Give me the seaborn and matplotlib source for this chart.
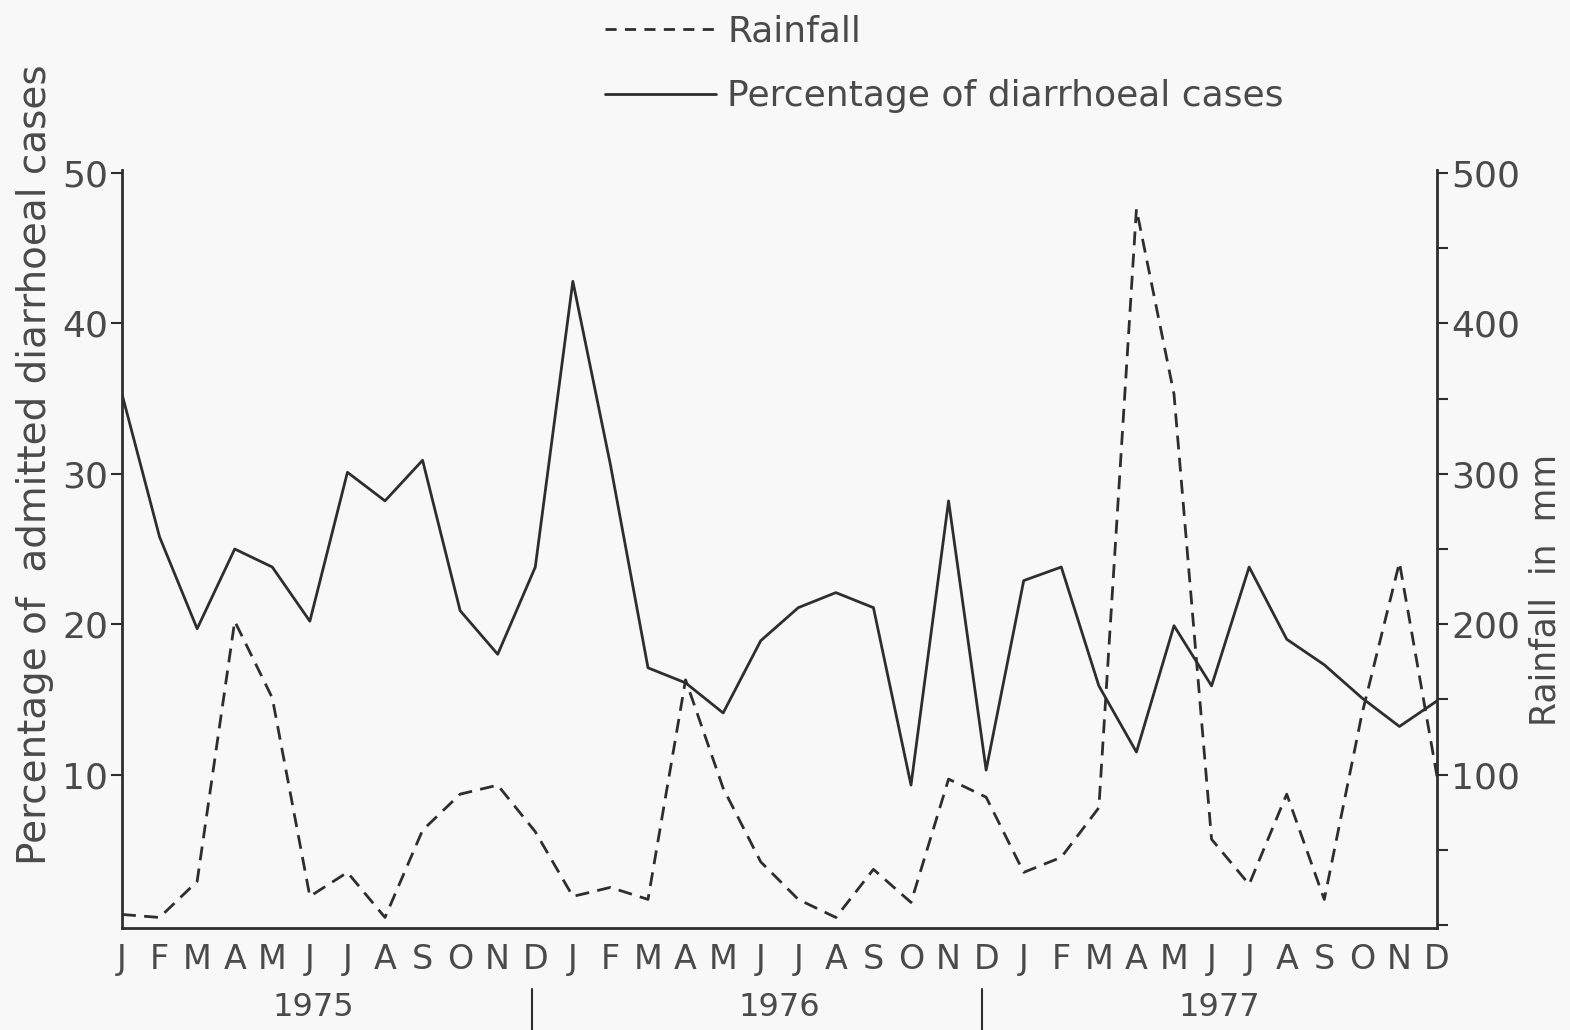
import numpy as np
import pandas as pd
import seaborn as sns
import matplotlib.pyplot as plt
from matplotlib.lines import Line2D
from matplotlib.ticker import MultipleLocator

# datos (ene 1975 - dic 1977)
months = list("JFMAMJJASOND") * 3
years = ["1975", "1976", "1977"]
pct_cases = [35.3, 25.8, 19.7, 25.0, 23.8, 20.2, 30.1, 28.2, 30.9, 20.9, 18.0, 23.8,
             42.8, 30.6, 17.1, 16.1, 14.1, 18.9, 21.1, 22.1, 21.1, 9.3, 28.2, 10.3,
             22.9, 23.8, 15.9, 11.5, 19.9, 15.9, 23.8, 19.0, 17.3, 15.1, 13.2, 14.9]
rainfall = [7, 5, 29, 202, 151, 19, 35, 5, 63, 87, 93, 62,
            19, 25, 17, 163, 91, 42, 17, 5, 37, 15, 97, 85,
            35, 45, 78, 476, 353, 57, 27, 87, 17, 140, 241, 99]

df = pd.DataFrame({"mes": np.arange(len(months)), "pct": pct_cases, "lluvia": rainfall})

sns.set_style("white")
plt.rcParams["font.family"] = ["DejaVu Sans"]
ink = "#2e2e2e"
txt = "#4a4a4a"

fig = plt.figure(figsize=(15.7, 10.3), dpi=100, facecolor="#f8f8f8")
ax = fig.add_axes([122 / 1570, 1 - 928 / 1030, (1437 - 122) / 1570, (928 - 170) / 1030])
ax.set_facecolor("none")
ax2 = ax.twinx()

sns.lineplot(data=df, x="mes", y="pct", ax=ax, color=ink, lw=2)
sns.lineplot(data=df, x="mes", y="lluvia", ax=ax2, color=ink, lw=2)
ax2.lines[0].set_dashes((5, 3))

ax.set_xlim(0, len(months) - 1)
ax.set_ylim(-0.2, 50.2)
ax2.set_ylim(-2, 502)

# ejes
for a in (ax, ax2):
    a.spines["top"].set_visible(False)
    for s in a.spines.values():
        s.set_color(ink)
        s.set_linewidth(2)
ax.spines["right"].set_visible(False)
ax2.spines["left"].set_visible(False)
ax2.spines["bottom"].set_visible(False)

ax.set_yticks([10, 20, 30, 40, 50])
ax.tick_params(axis="y", direction="out", length=8, width=1.5, colors=ink,
               labelsize=26, labelcolor=txt, pad=2)
ax.set_xticks(df["mes"])
ax.set_xticklabels(months)
ax.tick_params(axis="x", direction="out", length=8, width=1.5, colors=ink,
               labelsize=24, labelcolor=txt, pad=3)

ax2.set_yticks([100, 200, 300, 400, 500])
ax2.yaxis.set_minor_locator(MultipleLocator(50))
ax2.tick_params(axis="y", which="major", direction="out", length=8, width=1.5,
                colors=ink, labelsize=26, labelcolor=txt, pad=2)
ax2.tick_params(axis="y", which="minor", direction="out", length=8, width=1.5, colors=ink)

ax.set_xlabel("")
ax.set_ylabel("")
ax2.set_ylabel("")
fig.text(35 / 1570, 1 - 465 / 1030, "Percentage of  admitted diarrhoeal cases",
         rotation=90, ha="center", va="center", fontsize=28, color=txt)
fig.text(1546 / 1570, 1 - 590 / 1030, "Rainfall  in  mm",
         rotation=90, ha="center", va="center", fontsize=25, color=txt)

# años y separadores
for xpos, yr in zip([5.1, 17.5, 29.2], years):
    ax.text(xpos, -0.085, yr, transform=ax.get_xaxis_transform(), ha="center", va="top",
            fontsize=23, color=txt)
for xpos in [10.9, 22.9]:
    ax.plot([xpos, xpos], [-0.08, -0.14], transform=ax.get_xaxis_transform(),
            color=ink, lw=1.5, clip_on=False)

# leyenda
handles = [Line2D([], [], color=ink, lw=2, dashes=(4, 3)),
           Line2D([], [], color=ink, lw=2)]
fig.legend(handles, ["Rainfall", "Percentage of diarrhoeal cases"],
           loc="upper left", bbox_to_anchor=(572 / 1570, 1 + 18 / 1030), frameon=False,
           fontsize=26, labelcolor=txt, handlelength=3.1, handletextpad=0.3,
           labelspacing=0.85)

plt.savefig("out.png", dpi=100, facecolor=fig.get_facecolor())
